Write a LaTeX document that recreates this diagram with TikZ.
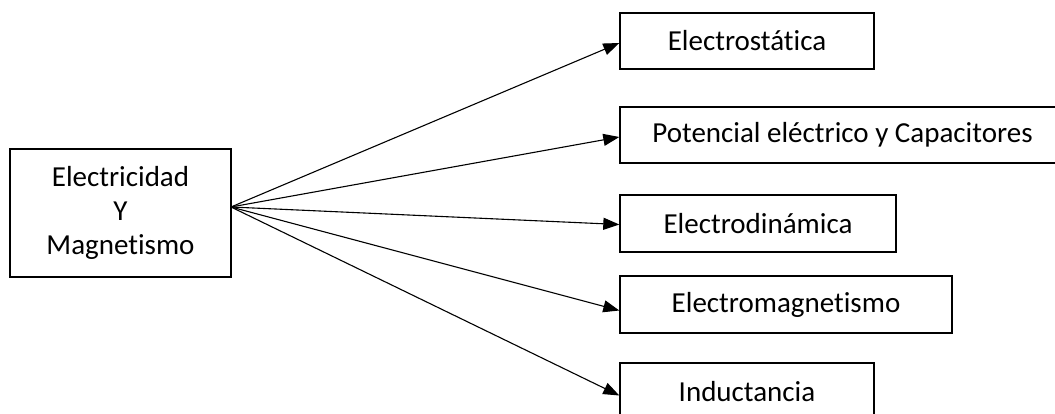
\documentclass[tikz,border=0pt]{standalone}
\usepackage{fontspec}
\setmainfont{Carlito}[Ligatures=NoCommon]
\usetikzlibrary{arrows.meta}
\begin{document}
\begin{tikzpicture}[x=1pt,y=-1pt,
  topic/.style={draw=black,line width=1.4pt,inner sep=0pt,align=center,
    font=\fontsize{29}{34}\selectfont},
  link/.style={line width=1.1pt,-{Triangle[length=16pt,width=12pt]}}]
  \useasboundingbox (0,0) rectangle (1055,414);
  \clip (0,0) rectangle (1055,414);
  % source topic
  \node[topic,minimum width=221pt,minimum height=128pt] (src) at (120.5,213)
    {Electricidad\\Y\\Magnetismo};
  \coordinate (hub) at (231,207);
  % branch topics
  \node[topic,minimum width=254pt,minimum height=56pt] (t1) at (747,41) {Electrostática};
  \node[topic,minimum width=445pt,minimum height=56pt] (t2) at (842.5,135) {Potencial eléctrico y Capacitores};
  \node[topic,minimum width=276pt,minimum height=57pt] (t3) at (758,223.5) {Electrodinámica};
  \node[topic,minimum width=332pt,minimum height=57pt] (t4) at (786,304.5) {Electromagnetismo};
  \node[topic,minimum width=254pt,minimum height=57pt] (t5) at (747,391.5) {Inductancia};
  % connectors
  \draw[link] (hub) -- ([yshift=-2pt]t1.west);
  \draw[link] (hub) -- ([yshift=-2pt]t2.west);
  \draw[link] (hub) -- ([yshift=-1pt]t3.west);
  \draw[link] (hub) -- ([yshift=-6pt]t4.west);
  \draw[link] (hub) -- ([yshift=-4pt]t5.west);
\end{tikzpicture}
\end{document}
